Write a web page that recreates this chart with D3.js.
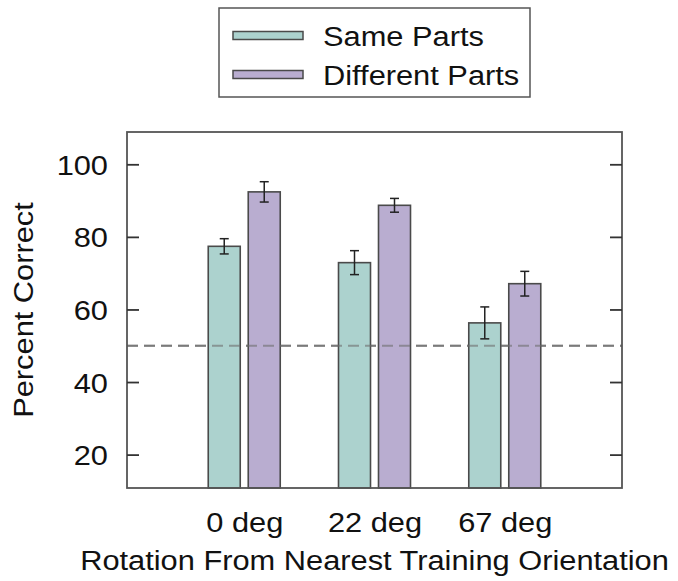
<!DOCTYPE html>
<html>
<head>
<meta charset="utf-8">
<script src="https://cdn.jsdelivr.net/npm/d3@7"></script>
<style>
  html, body { margin: 0; padding: 0; background: #fff; }
  svg text { font-family: "Liberation Sans", Arial, Helvetica, sans-serif; fill: #111; }
</style>
</head>
<body>
<svg id="chart" width="678" height="581"></svg>
<script>
const categories = ["0 deg", "22 deg", "67 deg"];
const seriesNames = ["Same Parts", "Different Parts"];
const samePartsValues = [77.4, 72.9, 56.3];
const samePartsErrors = [2.1, 3.3, 4.4];
const diffPartsValues = [92.4, 88.7, 67.1];
const diffPartsErrors = [2.8, 1.9, 3.4];
const yTicks = [20, 40, 60, 80, 100];
const chanceLevel = 50;
const xTitle = "Rotation From Nearest Training Orientation";
const yTitle = "Percent Correct";

const colors = ["#acd2ce", "#b9add0"];
const sx = 1.1; // horizontal text stretch
const fs = 28;

const svg = d3.select("#chart");
const m = { left: 127, right: 622, top: 132, bottom: 488 };

const x = d3.scalePoint().domain(categories).range([m.left, m.right]).padding(0.9);
const x1 = d3.scaleBand().domain(seriesNames).range([-36, 36]).paddingInner(0.2);
const y = d3.scaleLinear().domain([10.8, 108.9]).range([m.bottom, m.top]);

const data = categories.map((c, i) => [
  { cat: c, s: seriesNames[0], v: samePartsValues[i], e: samePartsErrors[i] },
  { cat: c, s: seriesNames[1], v: diffPartsValues[i], e: diffPartsErrors[i] }
]).flat();

// dashed chance line
svg.append("line")
  .attr("x1", m.left).attr("x2", m.right)
  .attr("y1", y(chanceLevel)).attr("y2", y(chanceLevel))
  .attr("stroke", "#8c8c8c").attr("stroke-width", 2.2)
  .attr("stroke-dasharray", "11,6");

// bars
svg.append("g").selectAll("rect").data(data).join("rect")
  .attr("x", d => x(d.cat) + x1(d.s))
  .attr("width", x1.bandwidth())
  .attr("y", d => y(d.v))
  .attr("height", d => m.bottom - y(d.v))
  .attr("fill", d => colors[seriesNames.indexOf(d.s)])
  .attr("stroke", "#4a4a4a").attr("stroke-width", 1.6)
  .attr("fill-opacity", 1);

// redraw dashed line over bars (visible through in reference)
svg.append("line")
  .attr("x1", m.left).attr("x2", m.right)
  .attr("y1", y(chanceLevel)).attr("y2", y(chanceLevel))
  .attr("stroke", "#6e6e6e").attr("stroke-opacity", 0.6).attr("stroke-width", 2.2)
  .attr("stroke-dasharray", "11,6");

// error bars
const eb = svg.append("g").attr("stroke", "#222").attr("stroke-width", 1.5);
data.forEach(d => {
  const cx = x(d.cat) + x1(d.s) + x1.bandwidth() / 2;
  eb.append("line").attr("x1", cx).attr("x2", cx).attr("y1", y(d.v + d.e)).attr("y2", y(d.v - d.e));
  eb.append("line").attr("x1", cx - 4.5).attr("x2", cx + 4.5).attr("y1", y(d.v + d.e)).attr("y2", y(d.v + d.e));
  eb.append("line").attr("x1", cx - 4.5).attr("x2", cx + 4.5).attr("y1", y(d.v - d.e)).attr("y2", y(d.v - d.e));
});

// frame
svg.append("rect")
  .attr("x", m.left).attr("y", m.top)
  .attr("width", m.right - m.left).attr("height", m.bottom - m.top)
  .attr("fill", "none").attr("stroke", "#555").attr("stroke-width", 1.8);

// left axis (ticks inward)
const yAxisL = svg.append("g").attr("transform", `translate(${m.left},0)`)
  .call(d3.axisLeft(y).tickValues(yTicks).tickSize(-12).tickPadding(0));
yAxisL.select(".domain").remove();
yAxisL.selectAll(".tick line").attr("stroke", "#333").attr("stroke-width", 1.8);
yAxisL.selectAll(".tick text")
  .attr("x", 0).attr("dy", null).attr("y", 10)
  .attr("text-anchor", "end")
  .attr("transform", `translate(-19,0) scale(${sx},1)`)
  .style("font-size", fs + "px").style("font-family", "Liberation Sans, Arial, sans-serif").attr("fill", "#111");

// right axis ticks inward
const yAxisR = svg.append("g").attr("transform", `translate(${m.right},0)`)
  .call(d3.axisRight(y).tickValues(yTicks).tickSize(-12).tickFormat(""));
yAxisR.select(".domain").remove();
yAxisR.selectAll(".tick line").attr("stroke", "#333").attr("stroke-width", 1.8);

// bottom axis labels
const xAxis = svg.append("g").attr("transform", `translate(0,${m.bottom})`)
  .call(d3.axisBottom(x).tickSize(0));
xAxis.select(".domain").remove();
xAxis.selectAll(".tick text")
  .attr("y", 0).attr("dy", null)
  .attr("transform", `translate(0,${531.5 - m.bottom}) scale(${sx},1)`)
  .attr("x", 0)
  .attr("text-anchor", "middle")
  .style("font-size", fs + "px").style("font-family", "Liberation Sans, Arial, sans-serif").attr("fill", "#111");

// axis titles
svg.append("text")
  .attr("transform", `translate(${(m.left + m.right) / 2},570) scale(${sx},1)`)
  .attr("text-anchor", "middle").style("font-size", fs + "px")
  .text(xTitle);
svg.append("text")
  .attr("transform", `translate(33,${(m.top + m.bottom) / 2}) rotate(-90) scale(${sx},1)`)
  .attr("text-anchor", "middle").style("font-size", fs + "px")
  .text(yTitle);

// legend
const lg = svg.append("g");
lg.append("rect").attr("x", 219).attr("y", 8).attr("width", 311).attr("height", 89)
  .attr("fill", "#fff").attr("stroke", "#555").attr("stroke-width", 1.5);
seriesNames.forEach((s, i) => {
  const cy = 35.5 + i * 39;
  lg.append("rect").attr("x", 233).attr("y", cy - 4).attr("width", 70).attr("height", 8)
    .attr("fill", colors[i]).attr("stroke", "#4a4a4a").attr("stroke-width", 1.5);
  lg.append("text")
    .attr("transform", `translate(323,${cy + 10}) scale(${sx},1)`)
    .style("font-size", fs + "px")
    .text(s);
});
</script>
</body>
</html>
